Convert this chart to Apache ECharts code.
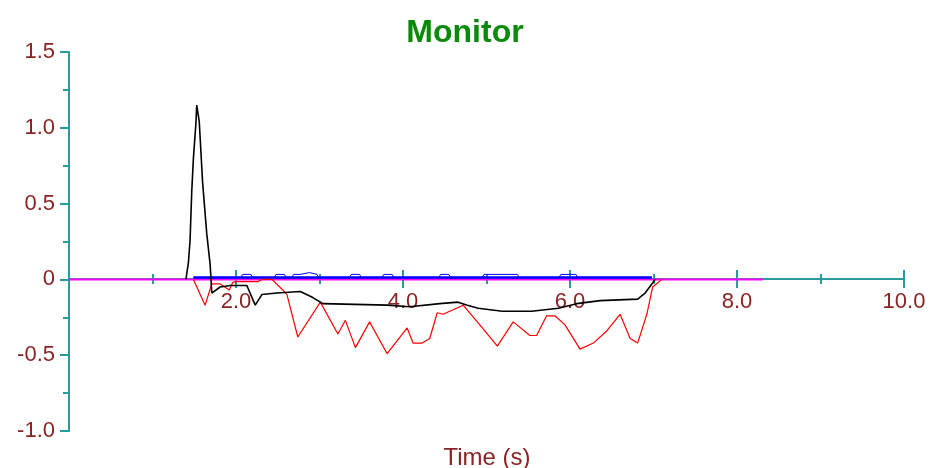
<!DOCTYPE html>
<html>
<head>
<meta charset="utf-8">
<script src="https://cdn.jsdelivr.net/npm/echarts@6/dist/echarts.min.js"></script>
<style>html,body{margin:0;padding:0;background:#fff}#c{width:930px;height:468px}</style>
</head>
<body>
<div id="c"></div>
<script>
// ---- data (time in s, value) ----
var titleText = "Monitor";
var xAxisName = "Time (s)";
var xTickLabels = ["", "2.0", "4.0", "6.0", "8.0", "10.0"];
var yTickLabels = ["-1.0", "-0.5", "0", "0.5", "1.0", "1.5"];

var blackT = [1.40,1.43,1.45,1.47,1.49,1.52,1.53,1.56,1.58,1.60,1.65,1.69,1.71,1.81,1.93,2.13,2.23,2.31,2.49,2.77,2.92,3.04,3.81,4.08,4.44,4.66,4.77,4.90,5.19,5.54,5.86,6.08,6.36,6.81,6.90,6.98,7.02];
var blackV = [0,0.11,0.26,0.58,0.80,1.03,1.15,1.04,0.84,0.64,0.30,0.10,-0.09,-0.05,-0.04,-0.04,-0.17,-0.10,-0.09,-0.08,-0.12,-0.16,-0.17,-0.18,-0.16,-0.15,-0.17,-0.19,-0.21,-0.21,-0.19,-0.16,-0.14,-0.13,-0.09,-0.03,0];

var redT = [1.49,1.63,1.71,1.81,1.92,1.96,2.01,2.26,2.31,2.43,2.56,2.61,2.74,3.01,3.22,3.31,3.43,3.60,3.81,4.05,4.12,4.23,4.32,4.41,4.48,4.72,4.92,5.13,5.32,5.52,5.60,5.72,5.82,5.94,6.12,6.28,6.44,6.60,6.72,6.81,6.92,6.99,7.10];
var redV = [0,-0.17,-0.03,-0.03,-0.07,-0.02,-0.015,-0.015,0,0,-0.07,-0.10,-0.38,-0.15,-0.36,-0.27,-0.45,-0.28,-0.49,-0.32,-0.42,-0.42,-0.39,-0.22,-0.23,-0.17,-0.30,-0.44,-0.28,-0.37,-0.37,-0.24,-0.24,-0.30,-0.46,-0.42,-0.34,-0.23,-0.39,-0.42,-0.23,-0.05,0];

var blueBaseT = [1.49,6.98];
var blueBaseV = [0.013,0.013];

var blueT = [1.49,2.06,2.08,2.18,2.20,2.46,2.48,2.58,2.60,2.67,2.69,2.77,2.79,2.88,2.90,2.97,2.99,3.36,3.38,3.48,3.50,3.75,3.77,3.87,3.89,4.43,4.45,4.55,4.57,4.95,4.97,5.37,5.39,5.87,5.89,6.07,6.09,6.98];
var blueV = [0.013,0.013,0.033,0.033,0.013,0.013,0.033,0.033,0.013,0.013,0.033,0.033,0.045,0.045,0.033,0.033,0.013,0.013,0.033,0.033,0.013,0.013,0.033,0.033,0.013,0.013,0.033,0.033,0.013,0.013,0.033,0.033,0.013,0.013,0.033,0.033,0.013,0.013];

var magentaT = [0,8.31];
var magentaV = [0,0];

function zip(t, v){ return t.map(function(x,i){ return [x, v[i]]; }); }

var teal = "#2a9a9a";
var labelColor = "#8c2323";
var font = "Liberation Sans, Arial, sans-serif";

var chart = echarts.init(document.getElementById('c'), null, {renderer:'canvas'});

var X_MIN = 0, X_MAX = 10, Y_MIN = -1, Y_MAX = 1.5;

function tickAxis(grid, pos, showLabel){
  return {
    type:'value', min:X_MIN, max:X_MAX, interval:2, gridIndex:grid, position:pos,
    axisLine:{show:true, onZero:false, lineStyle:{color:teal, width:2}},
    axisTick:{show:true, inside:false, length:9, lineStyle:{color:teal, width:2}},
    minorTick:{show:true, splitNumber:2, length:5, lineStyle:{color:teal, width:2}},
    splitLine:{show:false}, minorSplitLine:{show:false},
    axisLabel:{show:showLabel, margin:12, color:labelColor, fontSize:22, fontFamily:font,
      formatter:function(v){ var i = Math.round(v/2); return xTickLabels[i] !== undefined ? xTickLabels[i] : ''; }}
  };
}
function hiddenY(grid){
  return {type:'value', gridIndex:grid, min:Y_MIN, max:Y_MAX, show:false, splitLine:{show:false}};
}

chart.setOption({
  animation:false,
  backgroundColor:'#fff',
  title:{text:titleText, left:'center', top:12,
    textStyle:{color:'#0a8a0a', fontSize:32, fontWeight:'bold', fontFamily:font}},
  grid:[
    {left:69, right:26, top:52, bottom:37},
    {left:69, right:26, top:52, height:227},
    {left:69, right:26, top:279, bottom:37}
  ],
  xAxis:[
    {type:'value', gridIndex:0, min:X_MIN, max:X_MAX, show:false, splitLine:{show:false}},
    tickAxis(1, 'bottom', true),
    tickAxis(2, 'top', false)
  ],
  yAxis:[
    {type:'value', gridIndex:0, min:Y_MIN, max:Y_MAX, interval:0.5, position:'left',
      axisLine:{show:true, onZero:false, lineStyle:{color:teal, width:2}},
      axisTick:{show:true, length:9, lineStyle:{color:teal, width:2}},
      minorTick:{show:true, splitNumber:2, length:6, lineStyle:{color:teal, width:2}},
      splitLine:{show:false}, minorSplitLine:{show:false},
      axisLabel:{margin:14, color:labelColor, fontSize:22, fontFamily:font,
        formatter:function(v){ var i = Math.round((v-Y_MIN)/0.5); return yTickLabels[i]; }}
    },
    hiddenY(1),
    hiddenY(2)
  ],
  graphic:[{type:'text', x:487, y:458, style:{text:xAxisName, fill:labelColor, font:'24px ' + font, textAlign:'center', textVerticalAlign:'middle'}}],
  series:[
    {type:'line', name:'magenta', xAxisIndex:0, yAxisIndex:0, data:zip(magentaT,magentaV), symbol:'none', lineStyle:{color:'#ff00ff', width:2}, z:3},
    {type:'line', name:'blueBase', xAxisIndex:0, yAxisIndex:0, data:zip(blueBaseT,blueBaseV), symbol:'none', lineStyle:{color:'#0000ff', width:2.5}, z:4},
    {type:'line', name:'blue', xAxisIndex:0, yAxisIndex:0, data:zip(blueT,blueV), symbol:'none', lineStyle:{color:'#0000ff', width:1}, z:4},
    {type:'line', name:'red', xAxisIndex:0, yAxisIndex:0, data:zip(redT,redV), symbol:'none', lineStyle:{color:'#ff0000', width:1.2}, z:5},
    {type:'line', name:'black', xAxisIndex:0, yAxisIndex:0, data:zip(blackT,blackV), symbol:'none', lineStyle:{color:'#000000', width:1.6}, z:6}
  ]
});
</script>
</body>
</html>
